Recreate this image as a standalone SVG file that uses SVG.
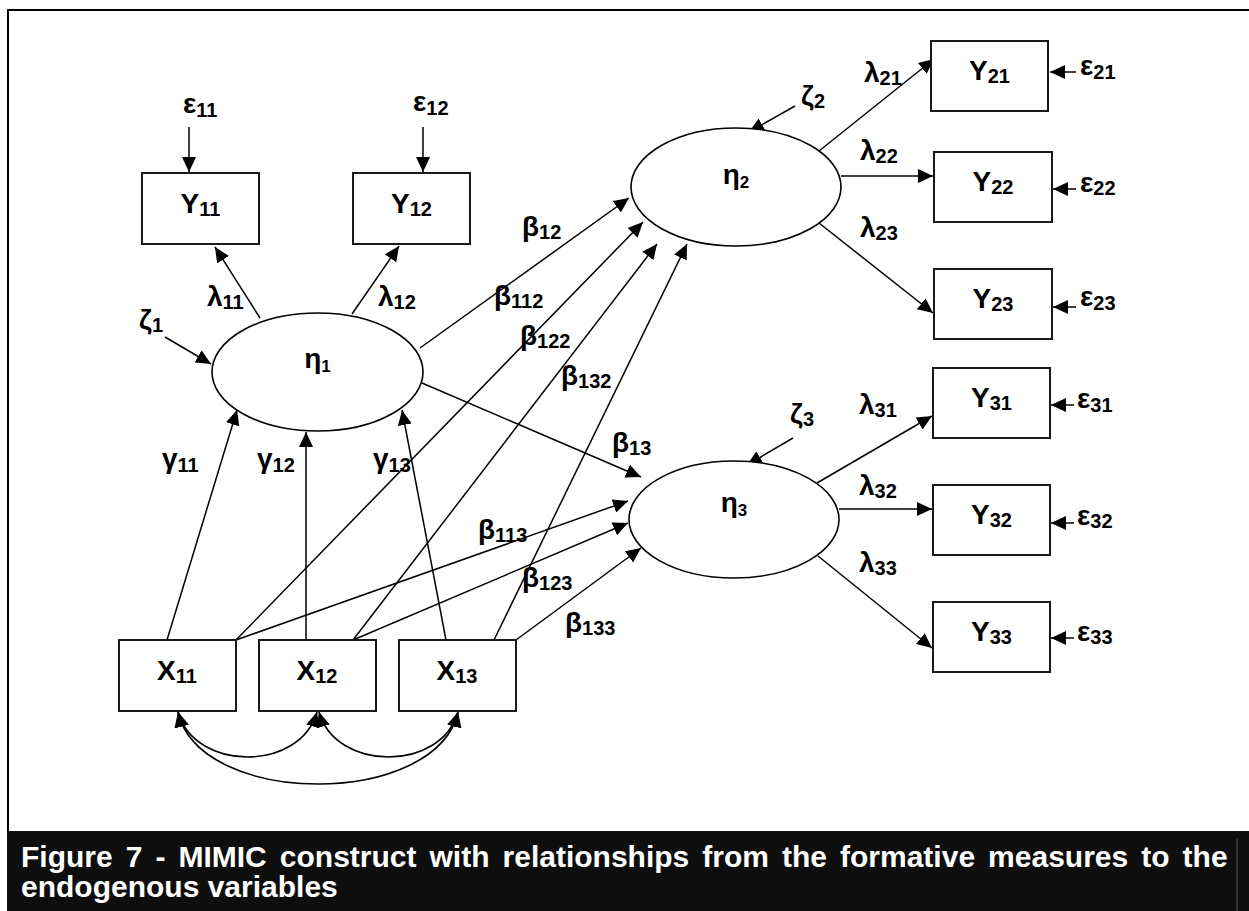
<svg xmlns="http://www.w3.org/2000/svg" width="1249" height="911" viewBox="0 0 1249 911">
  <style>
    text { font-family: "Liberation Sans", Arial, sans-serif; font-weight: bold; font-size: 28px; fill: #000; }
    .s { font-size: 20px; }
    .se { font-size: 17px; }
    .box { fill: #fff; stroke: #1a1a1a; stroke-width: 2; }
    .lat { fill: #fff; stroke: #000; stroke-width: 1.6; }
    .edge { fill: none; stroke: #000; stroke-width: 1.5; marker-end: url(#ah); }
    .cov { fill: none; stroke: #000; stroke-width: 1.6; marker-start: url(#ah); marker-end: url(#ah); }
    .cap { fill: #fff; font-size: 30px; }
  </style>
  <defs>
    <marker id="ah" markerUnits="userSpaceOnUse" viewBox="0 0 15 14" markerWidth="15" markerHeight="14" refX="15" refY="7" orient="auto-start-reverse">
      <path d="M0,0 L15,7 L0,14 z" fill="#000"/>
    </marker>
  </defs>

  <rect width="1249" height="911" fill="#fff"/>
  <!-- frame and caption band -->
  <rect x="8" y="10" width="1250" height="822" fill="none" stroke="#000" stroke-width="2"/>
  <rect x="7" y="831" width="1242" height="80" fill="#0e0e0e"/>
  <line x1="1237" y1="838" x2="1237" y2="911" stroke="#555" stroke-width="1"/>
  <text class="cap" x="21" y="867" word-spacing="4.7">Figure 7 - MIMIC construct with relationships from the formative measures to the</text>
  <text class="cap" x="21" y="897">endogenous variables</text>

  <!-- connectors -->
  <g id="connectors">
    <!-- error terms -->
    <line class="edge" x1="189" y1="127" x2="189" y2="172"/>
    <line class="edge" x1="423" y1="127" x2="423" y2="172"/>
    <line class="edge" x1="1076" y1="72" x2="1050" y2="72"/>
    <line class="edge" x1="1076" y1="189" x2="1053" y2="189"/>
    <line class="edge" x1="1076" y1="307" x2="1053" y2="307"/>
    <line class="edge" x1="1074" y1="405" x2="1051" y2="405"/>
    <line class="edge" x1="1074" y1="523" x2="1051" y2="523"/>
    <line class="edge" x1="1074" y1="638" x2="1051" y2="638"/>
    <!-- disturbances -->
    <line class="edge" x1="165" y1="337" x2="211" y2="364"/>
    <line class="edge" x1="795" y1="106" x2="749" y2="132"/>
    <line class="edge" x1="793" y1="438" x2="747" y2="465"/>
    <!-- loadings -->
    <line class="edge" x1="260" y1="318" x2="215" y2="247"/>
    <line class="edge" x1="352" y1="314" x2="399" y2="246"/>
    <line class="edge" x1="819" y1="151" x2="934" y2="59"/>
    <line class="edge" x1="841" y1="176" x2="933" y2="176"/>
    <line class="edge" x1="819" y1="223" x2="933" y2="313"/>
    <line class="edge" x1="817" y1="483" x2="932" y2="416"/>
    <line class="edge" x1="839" y1="509" x2="932" y2="509"/>
    <line class="edge" x1="818" y1="556" x2="932" y2="648"/>
    <!-- formative paths into eta1 -->
    <line class="edge" x1="167" y1="640" x2="237" y2="410"/>
    <line class="edge" x1="306" y1="640" x2="306" y2="432"/>
    <line class="edge" x1="446" y1="640" x2="402" y2="410"/>
    <!-- structural paths -->
    <line class="edge" x1="420" y1="348" x2="629" y2="198"/>
    <line class="edge" x1="422" y1="383" x2="641" y2="477"/>
    <line class="edge" x1="236" y1="640" x2="643" y2="222"/>
    <line class="edge" x1="236" y1="640" x2="628" y2="501"/>
    <line class="edge" x1="353" y1="640" x2="657" y2="244"/>
    <line class="edge" x1="353" y1="640" x2="628" y2="523"/>
    <line class="edge" x1="494" y1="640" x2="687" y2="244"/>
    <line class="edge" x1="516" y1="640" x2="641" y2="548"/>
    <!-- covariances among formative measures -->
    <path class="cov" d="M178,712 C195,772 300,772 317,712"/>
    <path class="cov" d="M319,712 C336,772 441,772 458,712"/>
    <path class="cov" d="M178,712 C200,808 436,808 458,712"/>
  </g>

  <!-- indicators -->
  <g id="Y11"><rect class="box" x="142" y="173" width="117" height="71"/><text x="200.5" y="213" text-anchor="middle">Y<tspan class="s" dy="3">11</tspan></text></g>
  <g id="Y12"><rect class="box" x="353" y="173" width="117" height="71"/><text x="411.5" y="213" text-anchor="middle">Y<tspan class="s" dy="3">12</tspan></text></g>
  <g id="Y21"><rect class="box" x="931" y="41" width="117" height="70"/><text x="989.5" y="80" text-anchor="middle">Y<tspan class="s" dy="3">21</tspan></text></g>
  <g id="Y22"><rect class="box" x="934" y="152" width="118" height="70"/><text x="993" y="191" text-anchor="middle">Y<tspan class="s" dy="3">22</tspan></text></g>
  <g id="Y23"><rect class="box" x="934" y="269" width="118" height="70"/><text x="993" y="308" text-anchor="middle">Y<tspan class="s" dy="3">23</tspan></text></g>
  <g id="Y31"><rect class="box" x="933" y="368" width="117" height="70"/><text x="991.5" y="407" text-anchor="middle">Y<tspan class="s" dy="3">31</tspan></text></g>
  <g id="Y32"><rect class="box" x="933" y="485" width="117" height="70"/><text x="991.5" y="524" text-anchor="middle">Y<tspan class="s" dy="3">32</tspan></text></g>
  <g id="Y33"><rect class="box" x="933" y="602" width="117" height="70"/><text x="991.5" y="641" text-anchor="middle">Y<tspan class="s" dy="3">33</tspan></text></g>

  <!-- formative measures -->
  <g id="X11"><rect class="box" x="119" y="640" width="117" height="71"/><text x="177" y="680" text-anchor="middle">X<tspan class="s" dy="3">11</tspan></text></g>
  <g id="X12"><rect class="box" x="259" y="640" width="117" height="71"/><text x="317" y="680" text-anchor="middle">X<tspan class="s" dy="3">12</tspan></text></g>
  <g id="X13"><rect class="box" x="399" y="640" width="117" height="71"/><text x="457" y="680" text-anchor="middle">X<tspan class="s" dy="3">13</tspan></text></g>

  <!-- latent constructs -->
  <g id="eta1"><ellipse class="lat" cx="317.5" cy="372" rx="105.5" ry="59"/><text x="317.5" y="368" text-anchor="middle">η<tspan class="se" dy="4">1</tspan></text></g>
  <g id="eta2"><ellipse class="lat" cx="736" cy="187" rx="105" ry="59"/><text x="736" y="184" text-anchor="middle">η<tspan class="se" dy="4">2</tspan></text></g>
  <g id="eta3"><ellipse class="lat" cx="734" cy="519.5" rx="105" ry="58.5"/><text x="734" y="512" text-anchor="middle">η<tspan class="se" dy="4">3</tspan></text></g>

  <!-- error and disturbance terms -->
  <g id="errors">
    <text x="183" y="113">ε<tspan class="s" dy="4">11</tspan></text>
    <text x="413" y="111">ε<tspan class="s" dy="4">12</tspan></text>
    <text x="1080" y="75">ε<tspan class="s" dy="4">21</tspan></text>
    <text x="1080" y="192">ε<tspan class="s" dy="3">22</tspan></text>
    <text x="1080" y="306">ε<tspan class="s" dy="4">23</tspan></text>
    <text x="1077" y="408">ε<tspan class="s" dy="4">31</tspan></text>
    <text x="1077" y="525">ε<tspan class="s" dy="3">32</tspan></text>
    <text x="1077" y="641">ε<tspan class="s" dy="3">33</tspan></text>
    <text x="139" y="329">ζ<tspan class="s" dy="3">1</tspan></text>
    <text x="801" y="105">ζ<tspan class="s" dy="3">2</tspan></text>
    <text x="790" y="423">ζ<tspan class="s" dy="3">3</tspan></text>
  </g>

  <!-- path coefficients -->
  <g id="coefficients">
    <text x="207" y="306">λ<tspan class="s" dy="3">11</tspan></text>
    <text x="378" y="306">λ<tspan class="s" dy="3">12</tspan></text>
    <text x="864" y="82">λ<tspan class="s" dy="3">21</tspan></text>
    <text x="860" y="160">λ<tspan class="s" dy="3">22</tspan></text>
    <text x="860" y="237">λ<tspan class="s" dy="3">23</tspan></text>
    <text x="859" y="414">λ<tspan class="s" dy="3">31</tspan></text>
    <text x="859" y="495">λ<tspan class="s" dy="3">32</tspan></text>
    <text x="859" y="572">λ<tspan class="s" dy="3">33</tspan></text>
    <text x="162" y="468">γ<tspan class="s" dy="4">11</tspan></text>
    <text x="257" y="468">γ<tspan class="s" dy="4">12</tspan></text>
    <text x="373" y="468">γ<tspan class="s" dy="4">13</tspan></text>
    <text x="522" y="236">β<tspan class="s" dy="3">12</tspan></text>
    <text x="494" y="305">β<tspan class="s" dy="3">112</tspan></text>
    <text x="520" y="345">β<tspan class="s" dy="3">122</tspan></text>
    <text x="561" y="385">β<tspan class="s" dy="3">132</tspan></text>
    <text x="612" y="452">β<tspan class="s" dy="3">13</tspan></text>
    <text x="478" y="539">β<tspan class="s" dy="3">113</tspan></text>
    <text x="522" y="587">β<tspan class="s" dy="3">123</tspan></text>
    <text x="565" y="632">β<tspan class="s" dy="3">133</tspan></text>
  </g>
</svg>
